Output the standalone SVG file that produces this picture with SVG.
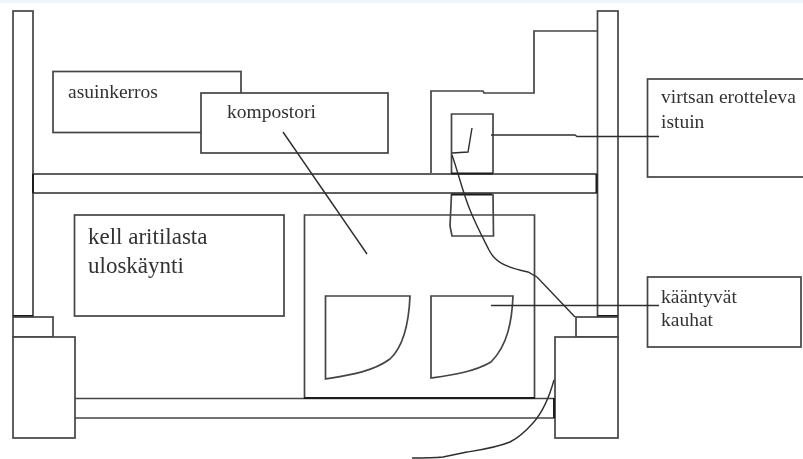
<svg xmlns="http://www.w3.org/2000/svg" width="803" height="459" viewBox="0 0 803 459">
<style>
.s{fill:none;stroke:#444;stroke-width:1.7}
.b{fill:#fff;stroke:#444;stroke-width:1.7}
.c{fill:none;stroke:#2e2e2e;stroke-width:1.4}
.k{stroke:#1c1c1c;stroke-width:2;fill:none}
text{font-family:"Liberation Serif","Times New Roman",serif;font-size:19.500px;fill:#333}
.l{font-size:23px}
</style>
<defs><filter id="soft" x="-2%" y="-2%" width="104%" height="104%"><feGaussianBlur stdDeviation="0.35"/></filter></defs>
<rect width="803" height="459" fill="#fff"/>
<rect width="803" height="3" fill="#eef5fb"/>
<g filter="url(#soft)">
<g id="left-wall"><rect class="b" x="13" y="11" width="20" height="305"/><path class="k" d="M13 316H33"/></g>
<g id="right-wall"><rect class="b" x="597.500" y="11" width="20.500" height="305"/><path class="k" d="M597 316H618"/></g>
<g id="left-foot"><rect class="b" x="13" y="317" width="40" height="20"/><rect class="b" x="13" y="337" width="62" height="101"/></g>
<g id="right-foot"><rect class="b" x="576" y="317" width="42" height="20"/><rect class="b" x="555" y="337" width="63" height="101"/></g>
<g id="upper-floor"><rect class="b" x="33" y="174" width="564" height="19"/><path class="k" d="M33 174V193M596.500 174V193"/></g>
<g id="lower-floor"><path class="s" d="M75 398.500H555M75 418H555"/><path class="k" d="M554 398V418"/></g>
<g id="asuinkerros"><rect class="b" x="53" y="71.500" width="188" height="61"/><text x="68" y="98">asuinkerros</text></g>
<g id="kompostori"><rect class="b" x="201" y="93" width="187" height="60"/><text x="227" y="118">kompostori</text></g>
<g id="kellaritilasta"><rect class="b" x="74.500" y="215" width="209.500" height="101"/><text class="l" x="88" y="244">kell aritilasta</text><text class="l" x="88" y="273">uloskäynti</text></g>
<g id="compost-chamber"><path class="s" d="M304.500 398V215H534.500V398"/><path class="k" d="M304 398H535"/></g>
<g id="seat"><path class="s" d="M451.500 173V114H493V173"/><path class="k" d="M451 173.500H493"/></g>
<g id="seat-lower"><path class="s" d="M451.500 194L450 226L452 236H493.500L493 194"/><path class="k" d="M451 194.500H492"/></g>
<g id="upper-pipe"><path class="s" d="M431 173V91H483L484 93H534V31H597"/></g>
<g id="bucket-left"><path class="s" d="M325.500 379V296H410C409 320 405 345 390 359C372 372 350 375 325.500 379Z"/></g>
<g id="bucket-right"><path class="s" d="M431 378V296H513C512 320 508 345 491 362C474 372 452 375 431 378Z"/></g>
<g id="virtsan"><rect class="b" x="647.500" y="79" width="157" height="98"/><text x="661" y="103">virtsan erotteleva</text><text x="661" y="128">istuin</text></g>
<g id="kaantyvat"><rect class="b" x="647.500" y="277" width="153.500" height="70"/><text x="661" y="303">kääntyvät</text><text x="661" y="326">kauhat</text></g>
<g id="connectors">
<path class="c" d="M283 132L367 254"/>
<path class="c" d="M491 135H575L577 136.500H659"/>
<path class="c" d="M472 128L468 152L452 153"/>
<path class="c" d="M452 155C458 172 463 193 470 210C476 225 483 238 489 250C495 262 505 267 528 272L537 277L575 317"/>
<path class="c" d="M491 305.500H659"/>
<path class="c" d="M554 380C549 398 542 413 533 423C525 432 518 438 510 442C495 448 480 450 467 452L443 457C432 458 422 458 412 458"/>
</g>
</g>
</svg>
